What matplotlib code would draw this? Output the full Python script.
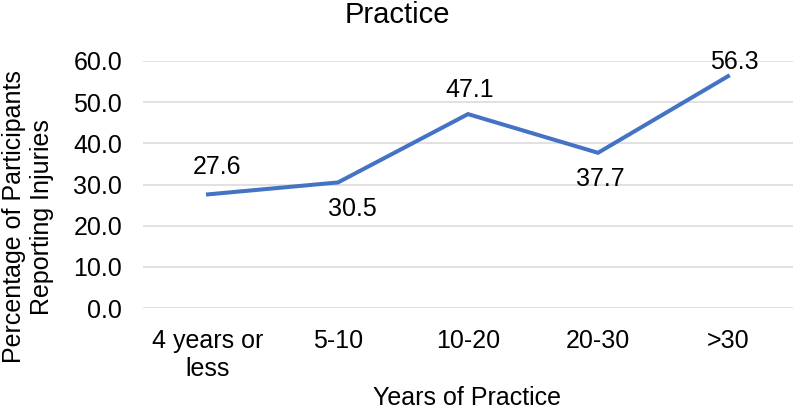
import matplotlib
matplotlib.use("Agg")
import matplotlib.pyplot as plt

categories = ["4 years or\nless", "5-10", "10-20", "20-30", ">30"]
values = [27.6, 30.5, 47.1, 37.7, 56.3]
yticks = [0, 10, 20, 30, 40, 50, 60]

# label placement (style only): above/below, x shift px, gap px
label_pos = ["above", "below", "above", "below", "above"]
label_dx_px = [9, 14, 2, 2, 6]
label_gap_px = [20, 15, 17, 14, 7]

plt.rcParams['font.family'] = ['Liberation Sans', 'DejaVu Sans']

W, H = 800, 411
fig = plt.figure(figsize=(W / 100, H / 100), dpi=100)
ax = fig.add_axes([143 / W, 1 - 308 / H, 650 / W, 247 / H])

x = list(range(len(categories)))
ax.plot(x, values, color="#4472C4", linewidth=2.9, solid_joinstyle="miter", zorder=3)

PT = 0.72
for xi, v, pos, dx, gap in zip(x, values, label_pos, label_dx_px, label_gap_px):
    if pos == "above":
        ax.annotate(f"{v:.1f}", (xi, v), xytext=(dx * PT, gap * PT), textcoords="offset points",
                    ha="center", va="baseline", fontsize=18, color="#000000", zorder=4)
    else:
        ax.annotate(f"{v:.1f}", (xi, v), xytext=(dx * PT, -gap * PT), textcoords="offset points",
                    ha="center", va="top", fontsize=18, color="#000000", zorder=4)

ax.set_xlim(-0.5, len(categories) - 0.5)
ax.set_ylim(0, 60)
ax.set_yticks(yticks)
ax.set_yticklabels([f"{t:.1f}" for t in yticks], fontsize=18)
ax.set_xticks(x)
ax.set_xticklabels(categories, fontsize=18, linespacing=1.2)

ax.grid(axis="y", color="#D9D9D9", linewidth=1.1, zorder=0)
ax.set_axisbelow(True)
for s in ["top", "right", "left", "bottom"]:
    ax.spines[s].set_visible(False)
ax.tick_params(axis="y", length=0, pad=15, colors="#000000")
ax.tick_params(axis="x", length=0, pad=15, colors="#000000")

fig.text(397 / W, 1 - 23 / H, "Practice", fontsize=21, ha="center", va="baseline")
fig.text(467 / W, 1 - 405 / H, "Years of Practice", fontsize=18, ha="center", va="baseline")
fig.text(28 / W, 1 - 217 / H, "Percentage of Participants\nReporting Injuries", fontsize=18,
         rotation=90, ha="center", va="center", linespacing=1.25, multialignment="center")

fig.savefig("out.png", dpi=100)
